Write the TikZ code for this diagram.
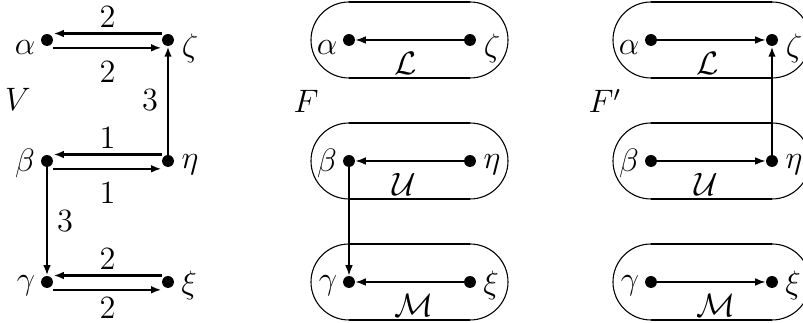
\documentclass[tikz,border=0pt]{standalone}
\usepackage{amsmath,amssymb}
\usetikzlibrary{calc,arrows.meta}

\tikzset{
  dot/.style={circle, fill, inner sep=0pt, minimum size=4.4pt},
  varrow/.style={line width=0.8pt, -{Latex[length=3.8pt,width=2.8pt]}},
  farrow/.style={line width=0.5pt, -{Latex[length=3.8pt,width=2.8pt]}},
}

\begin{document}
\begin{tikzpicture}[x=0.37pt, y=0.37pt, font=\large]
    \useasboundingbox (0,0) rectangle (803,323);
    % three copies of the six vertices
    \foreach \p/\dx in {1/0, 2/302, 3/604} {
      \node[dot] (a\p) at (47+\dx,283) {};
      \node[dot] (z\p) at (168+\dx,283) {};
      \node[dot] (b\p) at (47+\dx,162) {};
      \node[dot] (h\p) at (168+\dx,162) {};
      \node[dot] (g\p) at (47+\dx,41) {};
      \node[dot] (x\p) at (168+\dx,41) {};
      \node (la\p) at ($(a\p)+(-22,-8)$) {$\alpha$};
      \node (lz\p) at ($(z\p)+(22,-8)$) {$\zeta$};
      \node (lb\p) at ($(b\p)+(-22,-2)$) {$\beta$};
      \node (lh\p) at ($(h\p)+(22,-4)$) {$\eta$};
      \node (lg\p) at ($(g\p)+(-21,-4)$) {$\gamma$};
      \node (lx\p) at ($(x\p)+(21,-3)$) {$\xi$};
    }
    % the classes of F and F'
    \foreach \p in {2,3} {
      \foreach \l/\r in {a/z, b/h, g/x} {
        \draw[line width=0.4pt] ($(\l\p)+(0,38)$) arc[start angle=90, end angle=270, radius=38];
        \draw[line width=0.4pt] ($(\r\p)+(0,-38)$) arc[start angle=-90, end angle=90, radius=38];
        \draw[line width=0.75pt] ($(\l\p)+(0,38)$) -- ($(\r\p)+(0,38)$)
                                 ($(\l\p)+(0,-38)$) -- ($(\r\p)+(0,-38)$);
      }
      \node (cL\p) at ($(a\p)!0.5!(z\p)+(-4,-23)$) {$\mathcal{L}$};
      \node (cU\p) at ($(b\p)!0.5!(h\p)+(-5,-23)$) {$\mathcal{U}$};
      \node (cM\p) at ($(g\p)!0.5!(x\p)+(4,-23)$) {$\mathcal{M}$};
    }
    \node (V) at (18,224) {$V$};
    \node (F) at (306,222) {$F$};
    \node (Fp) at (605,222) {$F'$};

    % V
    \draw[varrow] ([yshift=2.4pt]z1.west) -- node[above=-1.5pt] (w1) {$2$} ([yshift=2.4pt]a1.east);
    \draw[varrow] ([yshift=-2.9pt]a1.east) -- node[below=1.5pt] (w2) {$2$} ([yshift=-2.9pt]z1.west);
    \draw[varrow] ([yshift=2.4pt]h1.west) -- node[above=-1.5pt] (w3) {$1$} ([yshift=2.4pt]b1.east);
    \draw[varrow] ([yshift=-2.9pt]b1.east) -- node[below=1.5pt] (w4) {$1$} ([yshift=-2.9pt]h1.west);
    \draw[varrow] ([yshift=2.4pt]x1.west) -- node[above=-1.5pt] (w5) {$2$} ([yshift=2.4pt]g1.east);
    \draw[varrow] ([yshift=-2.9pt]g1.east) -- node[below=2.5pt, inner sep=0pt] (w6) {$2$} ([yshift=-2.9pt]x1.west);
    \draw[varrow] (h1) -- node[left] (w7) {$3$} (z1);
    \draw[varrow] (b1) -- node[right] (w8) {$3$} (g1);

    % F
    \draw[farrow] (z2) -- (a2);
    \draw[farrow] (h2) -- (b2);
    \draw[farrow] (x2) -- (g2);
    \draw[farrow] (b2) -- (g2);

    % F'
    \draw[farrow] (a3) -- (z3);
    \draw[farrow] (b3) -- (h3);
    \draw[farrow] (g3) -- (x3);
    \draw[varrow] (h3) -- (z3);
\end{tikzpicture}
\end{document}
